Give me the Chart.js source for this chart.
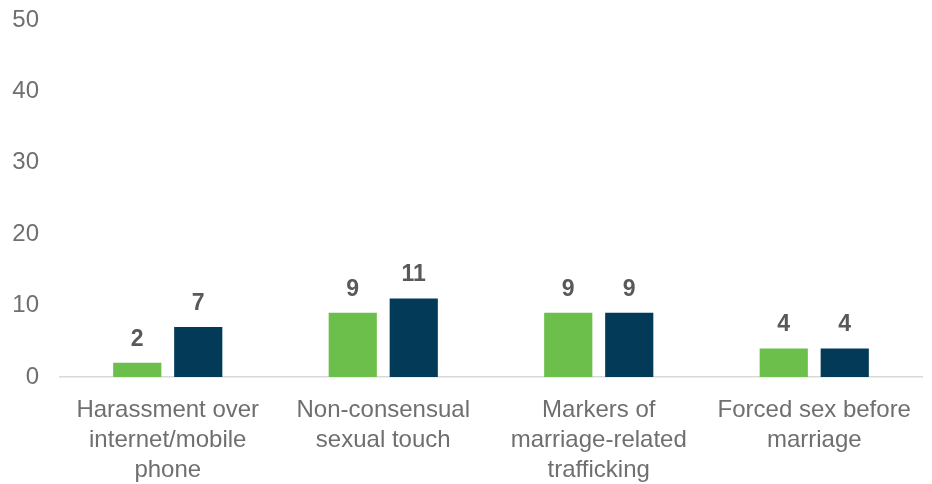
<!DOCTYPE html>
<html>
<head>
<meta charset="utf-8">
<script src="https://cdn.jsdelivr.net/npm/chart.js@4/dist/chart.umd.min.js"></script>
<style>
  html, body { margin: 0; padding: 0; background: #ffffff; }
  #wrap { width: 932px; height: 484px; position: relative; }
</style>
</head>
<body>
<div id="wrap"><canvas id="chart"></canvas></div>
<script>
// Categories (wrapped into lines) and the two series
const categories = [
  ["Harassment over", "internet/mobile", "phone"],
  ["Non-consensual", "sexual touch"],
  ["Markers of", "marriage-related", "trafficking"],
  ["Forced sex before", "marriage"]
];
const seriesA = [2, 9, 9, 4];
const seriesB = [7, 11, 9, 4];
const yTicks = [0, 10, 20, 30, 40, 50];

const FONT = '"Liberation Sans", Arial, sans-serif';

// Writes each bar's value just above it
const valueLabels = {
  id: 'valueLabels',
  afterDatasetsDraw(chart) {
    const ctx = chart.ctx;
    ctx.save();
    ctx.font = 'bold 23px ' + FONT;
    ctx.fillStyle = '#595959';
    ctx.textAlign = 'center';
    ctx.textBaseline = 'alphabetic';
    chart.data.datasets.forEach((ds, i) => {
      chart.getDatasetMeta(i).data.forEach((bar, j) => {
        ctx.fillText(String(ds.data[j]), bar.x, bar.y - 17);
      });
    });
    ctx.restore();
  }
};

new Chart(document.getElementById('chart'), {
  type: 'bar',
  data: {
    labels: categories,
    datasets: [
      { label: 'A', data: seriesA, backgroundColor: '#6cbf4a', categoryPercentage: 0.566, barPercentage: 0.79 },
      { label: 'B', data: seriesB, backgroundColor: '#033a57', categoryPercentage: 0.566, barPercentage: 0.79 }
    ]
  },
  options: {
    responsive: true,
    maintainAspectRatio: false,
    animation: false,
    layout: { padding: { top: 20, right: 10, left: 0, bottom: 0 } },
    plugins: { legend: { display: false }, tooltip: { enabled: false } },
    scales: {
      x: {
        afterFit(scale) { scale.height = 107; },
        grid: { display: false, drawTicks: false },
        border: { display: true, color: '#d9d9d9', width: 1.5 },
        ticks: {
          color: '#6f6f6f',
          font: { family: FONT, size: 24, lineHeight: 1.25 },
          padding: 18,
          maxRotation: 0,
          autoSkip: false
        }
      },
      y: {
        min: 0, max: 50,
        afterFit(scale) { scale.width = 60; scale.paddingTop = 0; scale.paddingBottom = 0; },
        afterBuildTicks(axis) { axis.ticks = yTicks.map(v => ({ value: v })); },
        grid: { display: false, drawTicks: false },
        border: { display: false },
        ticks: {
          color: '#6f6f6f',
          font: { family: FONT, size: 24 },
          padding: 21
        }
      }
    }
  },
  plugins: [valueLabels]
});
</script>
</body>
</html>
